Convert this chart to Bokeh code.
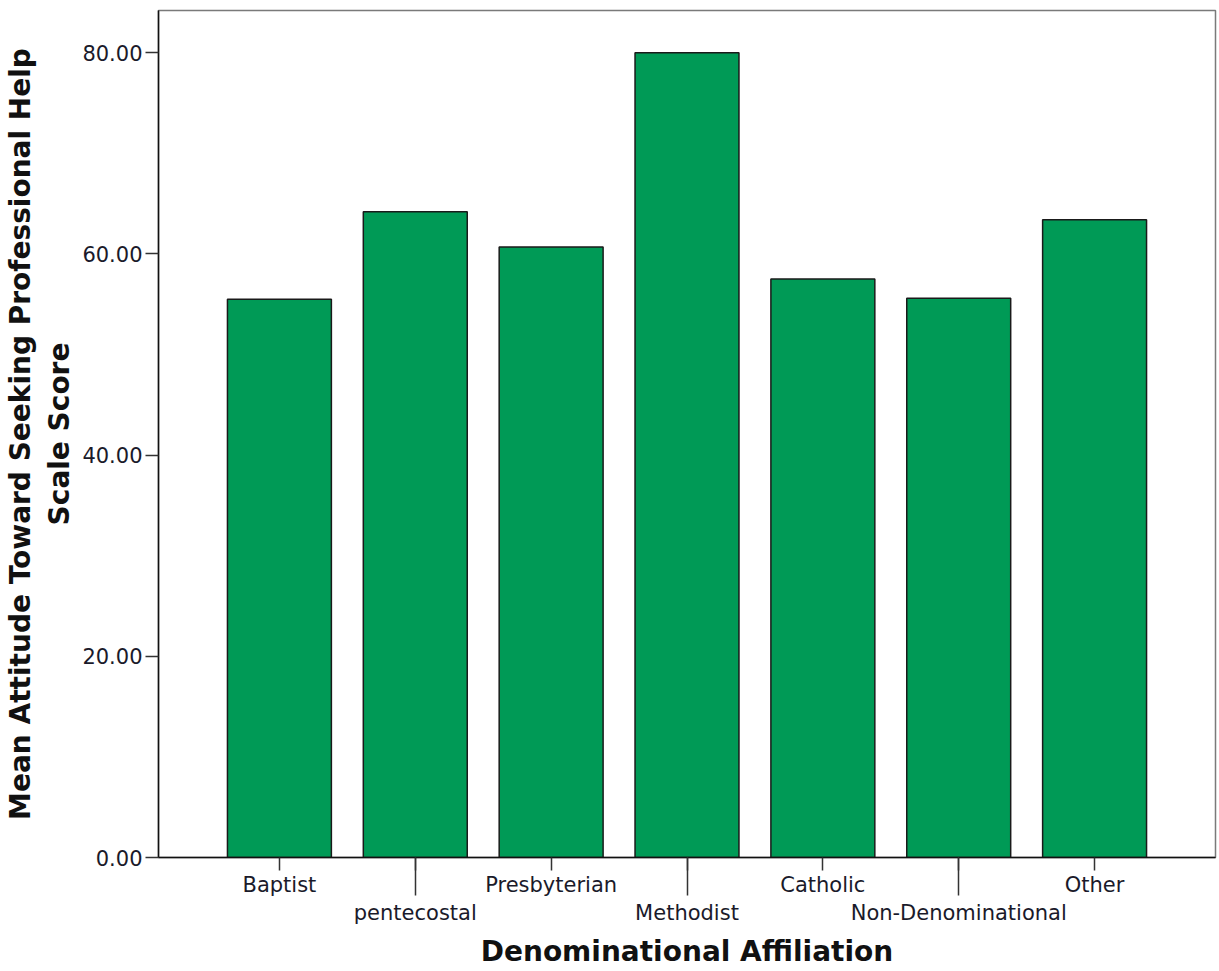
from bokeh.plotting import figure
from bokeh.models import FixedTicker, Range1d
from bokeh.embed import file_html
from bokeh.resources import INLINE

categories = ["Baptist", "pentecostal", "Presbyterian", "Methodist", "Catholic", "Non-Denominational", "Other"]
means = [55.5, 64.2, 60.7, 80.0, 57.5, 55.6, 63.4]
y_ticks = [0, 20, 40, 60, 80]
y_tick_labels = ["0.00", "20.00", "40.00", "60.00", "80.00"]

FONT = "DejaVu Sans"
GREEN = "#009A56"
xs = list(range(len(categories)))

p = figure(width=1219, height=971, output_backend="svg", toolbar_location=None,
           x_range=Range1d(-0.89, len(categories) - 1 + 0.89), y_range=Range1d(0, 84.2),
           min_border_left=158, min_border_top=10, min_border_right=4, min_border_bottom=114)

p.vbar(x=xs, top=means, width=0.765, fill_color=GREEN, line_color="#1a1a1a", line_width=1.5)

p.grid.visible = False
p.outline_line_color = "#7a7a7a"
p.outline_line_width = 1.5

# x axis: all categories as major ticks; odd ones staggered to a second row
xa = p.xaxis[0]
xa.ticker = FixedTicker(ticks=xs, minor_ticks=[i for i in xs if i % 2 == 1])
xa.major_label_overrides = {i: (categories[i] if i % 2 == 0 else "\n" + categories[i]) for i in xs}
xa.major_tick_out = 13
xa.major_tick_in = 0
xa.minor_tick_out = 38
xa.minor_tick_in = 0
xa.major_tick_line_color = "#333333"
xa.minor_tick_line_color = "#333333"
xa.major_tick_line_width = 1.5
xa.minor_tick_line_width = 1.5
xa.axis_line_color = "#111111"
xa.axis_line_width = 1.5
xa.major_label_text_font = FONT
xa.major_label_text_font_size = "21px"
xa.major_label_text_color = "#1a1a2a"
xa.major_label_standoff = -23
xa.axis_label = "Denominational Affiliation"
xa.axis_label_text_font = FONT
xa.axis_label_text_font_style = "bold"
xa.axis_label_text_font_size = "28px"
xa.axis_label_text_color = "#111111"
xa.axis_label_standoff = 7

# y axis
ya = p.yaxis[0]
ya.ticker = FixedTicker(ticks=y_ticks)
ya.major_label_overrides = {t: l for t, l in zip(y_ticks, y_tick_labels)}
ya.major_tick_out = 13
ya.major_tick_in = 0
ya.minor_tick_line_color = None
ya.major_tick_line_color = "#333333"
ya.major_tick_line_width = 1.5
ya.axis_line_color = "#111111"
ya.axis_line_width = 1.5
ya.major_label_text_font = FONT
ya.major_label_text_font_size = "21px"
ya.major_label_text_color = "#1a1a2a"
ya.major_label_standoff = 3
ya.axis_label = "Mean Attitude Toward Seeking Professional Help\nScale Score"
ya.axis_label_text_font = FONT
ya.axis_label_text_font_style = "bold"
ya.axis_label_text_font_size = "28px"
ya.axis_label_text_color = "#111111"
ya.axis_label_standoff = 3

open("out.html", "w").write(file_html(p, INLINE))
